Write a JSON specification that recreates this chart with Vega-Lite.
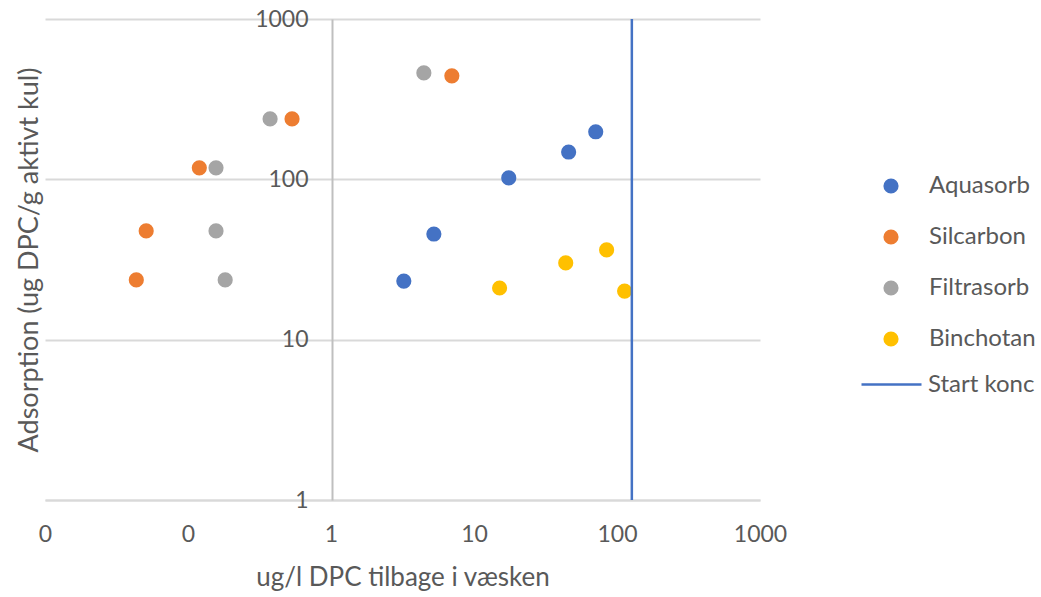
{
  "$schema": "https://vega.github.io/schema/vega-lite/v6.json",
  "autosize": {"type": "none"},
  "padding": {"left": 45, "top": 19, "right": 281, "bottom": 97},
  "width": 715,
  "height": 481,
  "background": "white",
  "config": {
    "font": "Lato",
    "view": {"stroke": null},
    "axis": {"labelColor": "#595959", "titleColor": "#595959", "labelFont": "Lato", "titleFont": "Lato", "labelFontWeight": "normal", "titleFontWeight": "normal"},
    "legend": {"labelColor": "#595959", "labelFont": "Lato"}
  },
  "datasets": {
    "pts": [
      {"serie": "Aquasorb", "x": 3.23, "y": 23.2},
      {"serie": "Aquasorb", "x": 5.24, "y": 45.6},
      {"serie": "Aquasorb", "x": 17.5, "y": 102},
      {"serie": "Aquasorb", "x": 45.9, "y": 148},
      {"serie": "Aquasorb", "x": 71, "y": 198},
      {"serie": "Silcarbon", "x": 0.0435, "y": 23.6},
      {"serie": "Silcarbon", "x": 0.051, "y": 47.7},
      {"serie": "Silcarbon", "x": 0.12, "y": 118},
      {"serie": "Silcarbon", "x": 0.534, "y": 238},
      {"serie": "Silcarbon", "x": 7.0, "y": 442},
      {"serie": "Filtrasorb", "x": 0.182, "y": 23.6},
      {"serie": "Filtrasorb", "x": 0.157, "y": 47.7},
      {"serie": "Filtrasorb", "x": 0.157, "y": 118},
      {"serie": "Filtrasorb", "x": 0.375, "y": 238},
      {"serie": "Filtrasorb", "x": 4.46, "y": 461},
      {"serie": "Binchotan", "x": 15.1, "y": 21},
      {"serie": "Binchotan", "x": 43.8, "y": 30.1},
      {"serie": "Binchotan", "x": 84.6, "y": 36.3},
      {"serie": "Binchotan", "x": 113, "y": 20.1}
    ],
    "start": [
      {"serie": "Start konc", "x": 127}
    ]
  },
  "layer": [
    {
      "data": {"name": "pts"},
      "mark": {"type": "point", "filled": true, "shape": "circle", "size": 230, "opacity": 1},
      "encoding": {
        "x": {
          "field": "x", "type": "quantitative",
          "scale": {"type": "log", "domain": [0.01, 1000], "nice": false},
          "axis": {
            "title": "ug/l DPC tilbage i væsken",
            "values": [0.01, 0.1, 1, 10, 100, 1000],
            "labelExpr": "datum.value < 1 ? '0' : format(datum.value, 'd')",
            "labelFlush": false,
            "grid": false, "ticks": false,
            "domainColor": "#D9D9D9", "domainWidth": 2,
            "labelFontSize": 23, "labelPadding": 23,
            "titleFontSize": 26, "titlePadding": 18
          }
        },
        "y": {
          "field": "y", "type": "quantitative",
          "scale": {"type": "log", "domain": [1, 1000], "nice": false},
          "axis": {
            "title": "Adsorption (ug DPC/g aktivt kul)",
            "values": [1, 10, 100, 1000],
            "format": "d",
            "offset": -287,
            "labelFlush": false,
            "grid": true, "gridColor": "#D9D9D9", "gridWidth": 2,
            "ticks": false,
            "domainColor": "#BFBFBF", "domainWidth": 2,
            "labelFontSize": 23, "labelPadding": 24,
            "titleFontSize": 27, "titleX": -289
          }
        },
        "fill": {
          "field": "serie", "type": "nominal",
          "scale": {"domain": ["Aquasorb", "Silcarbon", "Filtrasorb", "Binchotan"], "range": ["#4472C4", "#ED7D31", "#A5A5A5", "#FFC000"]},
          "legend": {
            "title": null, "orient": "none", "legendX": 834, "legendY": 155,
            "padding": 0, "symbolSize": 230, "symbolType": "circle", "symbolStrokeWidth": 0,
            "labelFontSize": 24, "labelOffset": 26, "rowPadding": 27
          }
        }
      }
    },
    {
      "data": {"name": "start"},
      "mark": {"type": "rule", "strokeWidth": 2.5},
      "encoding": {
        "x": {"field": "x", "type": "quantitative"},
        "stroke": {
          "field": "serie", "type": "nominal",
          "scale": {"domain": ["Start konc"], "range": ["#4472C4"]},
          "legend": {
            "title": null, "orient": "none", "legendX": 815, "legendY": 334,
            "padding": 0, "symbolSize": 3600, "symbolType": "stroke", "symbolStrokeWidth": 2.5,
            "labelFontSize": 24, "labelOffset": 5
          }
        }
      }
    }
  ]
}
